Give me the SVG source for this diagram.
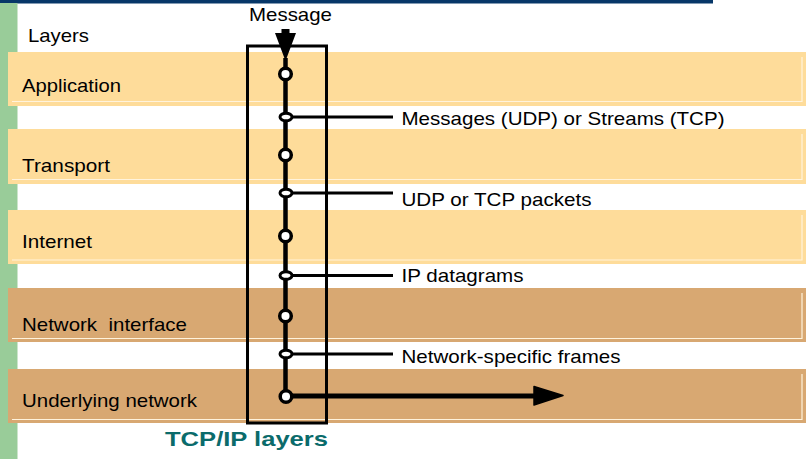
<svg xmlns="http://www.w3.org/2000/svg" width="808" height="459" viewBox="0 0 808 459">
  <style>
    .t { font-family: "Liberation Sans", Arial, sans-serif; font-size: 19px; fill: #000; white-space: pre; }
    .light { fill: #FEDC9A; }
    .dark { fill: #D8A872; }
    .bevel { fill: none; stroke: #FFF3DC; stroke-width: 1.2; }
    .wire { stroke: #000; fill: none; }
    .node { fill: #fff; stroke: #000; stroke-width: 3.5; }
    .tap { fill: #fff; stroke: #000; stroke-width: 3; }
  </style>
  <rect x="0" y="0" width="808" height="459" fill="#fff"/>
  <rect x="0" y="0" width="713" height="3.5" fill="#073768"/>
  <rect x="0" y="3" width="17.5" height="456" fill="#99CC99"/>

  <g id="layer-application">
    <rect class="light" x="8" y="52" width="798" height="54"/>
    <polyline class="bevel" points="802,57 802,101.5 12,101.5"/>
    <text class="t" x="22" y="92" textLength="99" lengthAdjust="spacingAndGlyphs">Application</text>
  </g>
  <g id="layer-transport">
    <rect class="light" x="8" y="129" width="798" height="55"/>
    <polyline class="bevel" points="802,134 802,179.5 12,179.5"/>
    <text class="t" x="22" y="172" textLength="88" lengthAdjust="spacingAndGlyphs">Transport</text>
  </g>
  <g id="layer-internet">
    <rect class="light" x="8" y="210" width="798" height="54"/>
    <polyline class="bevel" points="802,215 802,260 12,260"/>
    <text class="t" x="22" y="248" textLength="70" lengthAdjust="spacingAndGlyphs">Internet</text>
  </g>
  <g id="layer-network-interface">
    <rect class="dark" x="8" y="288" width="798" height="54"/>
    <polyline class="bevel" points="802,293 802,338.5 12,338.5"/>
    <text class="t" x="22" y="331" textLength="165" lengthAdjust="spacingAndGlyphs">Network  interface</text>
  </g>
  <g id="layer-underlying-network">
    <rect class="dark" x="8" y="369" width="798" height="54"/>
    <polyline class="bevel" points="802,374 802,419.5 12,419.5"/>
    <text class="t" x="22" y="407" textLength="175" lengthAdjust="spacingAndGlyphs">Underlying network</text>
  </g>

  <g id="title-layers">
    <text class="t" x="28" y="42" textLength="61" lengthAdjust="spacingAndGlyphs">Layers</text>
  </g>
  <g id="title-message">
    <text class="t" x="249" y="21" textLength="83" lengthAdjust="spacingAndGlyphs">Message</text>
  </g>

  <g id="tcpip-box">
    <rect x="247.5" y="46" width="79" height="377" fill="none" stroke="#000" stroke-width="3"/>
    <text x="165" y="445.5" font-family="Liberation Sans, Arial, sans-serif" font-size="21" font-weight="bold" fill="#0B6B6B" textLength="163" lengthAdjust="spacingAndGlyphs">TCP/IP layers</text>
  </g>

  <g id="connectors">
    <polygon points="281.5,29 289.5,29 289.5,33 296,33 285.5,61 275,33 281.5,33" fill="#000"/>
    <line class="wire" x1="285.5" y1="58" x2="285.5" y2="396" stroke-width="4.5"/>
    <line class="wire" x1="286" y1="117" x2="393" y2="117" stroke-width="3.2"/>
    <line class="wire" x1="286" y1="193" x2="393" y2="193" stroke-width="3.2"/>
    <line class="wire" x1="286" y1="275.5" x2="393" y2="275.5" stroke-width="3.2"/>
    <line class="wire" x1="286" y1="354" x2="393" y2="354" stroke-width="3.2"/>
    <line class="wire" x1="286" y1="396" x2="537" y2="396" stroke-width="5"/>
    <polygon points="534,386.5 563,395.5 534,405" fill="#000" stroke="#000" stroke-width="1.5" stroke-linejoin="round"/>
    <ellipse class="tap" cx="286" cy="117" rx="6" ry="3.8"/>
    <ellipse class="tap" cx="286" cy="193" rx="6" ry="3.8"/>
    <ellipse class="tap" cx="286" cy="275.5" rx="6" ry="3.8"/>
    <ellipse class="tap" cx="286" cy="354" rx="6" ry="3.8"/>
  </g>

  <g id="layer-points">
    <circle class="node" cx="285.5" cy="74" r="5.8"/>
    <circle class="node" cx="285.5" cy="155" r="5.8"/>
    <circle class="node" cx="285.5" cy="236" r="5.8"/>
    <circle class="node" cx="285.5" cy="316" r="5.8"/>
    <circle class="node" cx="286" cy="396.5" r="5.8"/>
  </g>

  <g id="label-messages">
    <text class="t" x="401.5" y="125" textLength="323" lengthAdjust="spacingAndGlyphs">Messages (UDP) or Streams (TCP)</text>
  </g>
  <g id="label-packets">
    <text class="t" x="401.5" y="206" textLength="190" lengthAdjust="spacingAndGlyphs">UDP or TCP packets</text>
  </g>
  <g id="label-datagrams">
    <text class="t" x="401.5" y="282" textLength="122" lengthAdjust="spacingAndGlyphs">IP datagrams</text>
  </g>
  <g id="label-frames">
    <text class="t" x="401.5" y="363" textLength="219" lengthAdjust="spacingAndGlyphs">Network-specific frames</text>
  </g>
</svg>
